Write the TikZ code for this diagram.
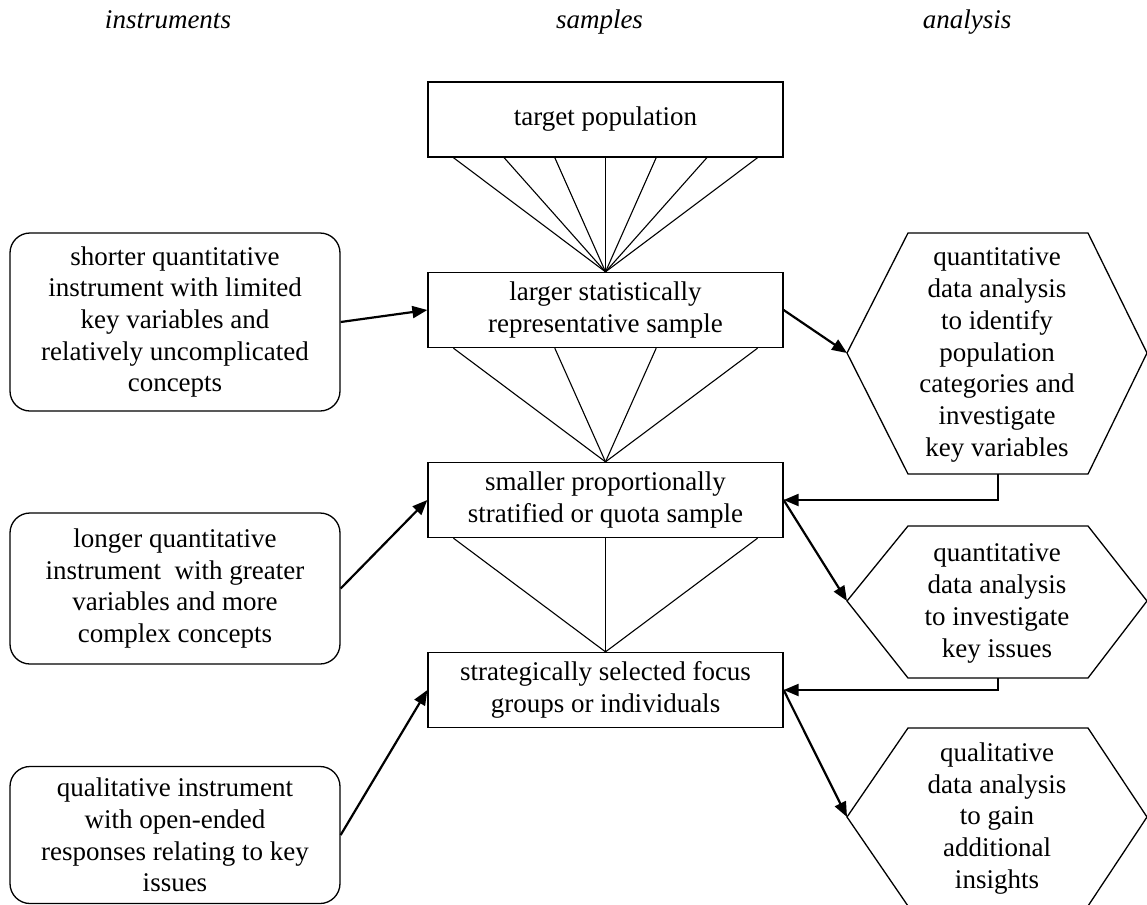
\documentclass[tikz,border=0pt]{standalone}
\usepackage{fontspec}
\setmainfont{Liberation Serif}
\usetikzlibrary{arrows.meta}
\begin{document}
\begin{tikzpicture}[x=0.5pt,y=-0.5pt,
  txt/.style={font=\fontsize{13.5pt}{15.85pt}\selectfont, align=center},
  sbox/.style={txt, draw, line width=0.65pt, minimum width=177.5pt, minimum height=37.5pt, inner sep=0pt},
  ibox/.style={txt, draw, rounded corners=10pt, line width=0.65pt, minimum width=165pt, inner sep=0pt},
  hexline/.style={line width=0.65pt, line join=miter},
  fan/.style={line width=0.55pt},
  arr/.style={line width=1.1pt, -{Triangle[length=7.5pt,width=6pt]}},
  elbow/.style={line width=1.1pt, -{Triangle[length=7.5pt,width=6pt]}},
  head/.style={font=\fontsize{13.5pt}{15.85pt}\selectfont\itshape, anchor=base}]
\useasboundingbox (0,0) rectangle (1147,905);

% headers
\node[head] (hi) at (168,28) {instruments};
\node[head] (hs) at (599.5,28) {samples};
\node[head] (ha) at (967,28) {analysis};

% sample boxes
\node[sbox] (tp) at (605.5,119.5) {target population};
\node[sbox] (lg) at (605.5,310) {larger statistically\\representative sample};
\node[sbox] (sm) at (605.5,500) {smaller proportionally\\stratified or quota sample};
\node[sbox] (st) at (605.5,690) {strategically selected focus\\groups or individuals};

% fans
\foreach \k in {-3,...,3}
  \draw[fan] ([xshift=\k*25.35pt]tp.south) -- (lg.north);
\foreach \k in {-3,-1,1,3}
  \draw[fan] ([xshift=\k*25.35pt]lg.south) -- (sm.north);
\foreach \k in {-3,0,3}
  \draw[fan] ([xshift=\k*25.35pt]sm.south) -- (st.north);

% instrument boxes
\node[ibox, minimum height=89pt] (i1) at (175,322) {shorter quantitative\\instrument with limited\\key variables and\\relatively uncomplicated\\concepts};
\node[ibox, minimum height=75.5pt] (i2) at (175,588.5) {longer quantitative\\instrument\ \ with greater\\variables and more\\complex concepts};
\node[ibox, minimum height=68.5pt] (i3) at (175,835) {qualitative instrument\\with open-ended\\responses relating to key\\issues};

% analysis hexagons
\draw[hexline] (847,353) coordinate (h1w) -- (908,233) -- (1088,233) -- (1147,353) -- (1088,474) -- (908,474) -- cycle;
\coordinate (h1s) at (998,474);
\node[txt] (h1) at (997,355) {quantitative\\data analysis\\to identify\\population\\categories and\\investigate\\key variables};

\draw[hexline] (847,601) coordinate (h2w) -- (908,526) -- (1088,526) -- (1147,601) -- (1088,678) -- (908,678) -- cycle;
\coordinate (h2s) at (998,678);
\node[txt] (h2) at (997,603.5) {quantitative\\data analysis\\to investigate\\key issues};

\draw[hexline] (847,817) coordinate (h3w) -- (908,728) -- (1088,728) -- (1147,817) -- (1088,906) -- (908,906) -- cycle;
\node[txt] (h3) at (997,818.5) {qualitative\\data analysis\\to gain\\additional\\insights};

% connectors
\draw[arr] (i1.east) -- (lg.west);
\draw[arr] (i2.east) -- (sm.west);
\draw[arr] (i3.east) -- (st.west);
\draw[arr] (lg.east) -- (h1w);
\draw[elbow] (h1s) |- (sm.east);
\draw[arr] (sm.east) -- (h2w);
\draw[elbow] (h2s) |- (st.east);
\draw[arr] (st.east) -- (h3w);
\end{tikzpicture}
\end{document}
